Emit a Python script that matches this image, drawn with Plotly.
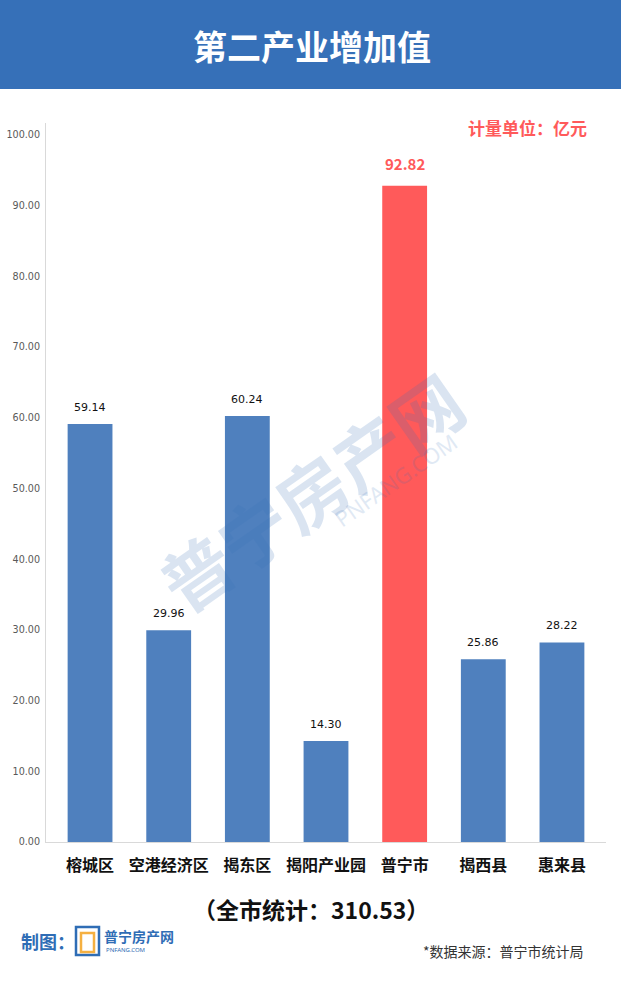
import plotly.graph_objects as go

categories = ["榕城区", "空港经济区", "揭东区", "揭阳产业园", "普宁市", "揭西县", "惠来县"]
values = [59.14, 29.96, 60.24, 14.30, 92.82, 25.86, 28.22]
highlight = "普宁市"
tick_vals = [0, 10, 20, 30, 40, 50, 60, 70, 80, 90, 100]
tick_text = ["%.2f" % v for v in tick_vals]
title_text = "第二产业增加值"
unit_text = "计量单位：亿元"
total_text = "（全市统计：310.53）"
source_text = "*数据来源：普宁市统计局"

BLUE = "#4F80BE"
RED = "#FF5A5A"
colors = [RED if c == highlight else BLUE for c in categories]

fig = go.Figure()
fig.add_trace(go.Bar(
    x=categories, y=values, marker=dict(color=colors, line=dict(width=0)),
    width=0.57, showlegend=False, hoverinfo="skip",
))

for c, v in zip(categories, values):
    if c == highlight:
        fig.add_annotation(x=c, y=v, text="<b>%.2f</b>" % v, showarrow=False,
                           yshift=10, yanchor="bottom", xanchor="center",
                           font=dict(family="Noto Sans CJK SC", size=15, color=RED))
    else:
        fig.add_annotation(x=c, y=v, text="%.2f" % v, showarrow=False,
                           yshift=8, yanchor="bottom", xanchor="center",
                           font=dict(family="DejaVu Sans", size=11, color="#111111"))

fig.update_layout(
    width=621, height=983,
    margin=dict(l=46, r=15, t=123, b=141),
    paper_bgcolor="white", plot_bgcolor="white",
    xaxis=dict(range=[-0.56, 6.56], showgrid=False, showline=True, linecolor="#D9D9D9",
               linewidth=1, ticks="", tickfont=dict(family="Noto Sans CJK SC", size=16, color="#111111"),
               tickvals=categories, ticktext=["<b>%s</b>" % c for c in categories],
               ticklabelstandoff=9, fixedrange=True, automargin=False),
    yaxis=dict(range=[0, 101.7], tickvals=tick_vals, ticktext=tick_text, showgrid=False,
               showline=True, linecolor="#D9D9D9", linewidth=1, ticks="", zeroline=False,
               tickfont=dict(family="DejaVu Sans", size=9.6, color="#595959"), ticklabelstandoff=3,
               fixedrange=True, automargin=False),
    font=dict(family="Noto Sans CJK SC"),
)

plot_h = 983 - 123 - 141
plot_w = 621 - 46 - 15
def py(y):
    return (983 - 141 - y) / plot_h
def px(x):
    return (x - 46) / plot_w

def note(x, y, text, size, color, family="Noto Sans CJK SC", xanchor="center", **kw):
    fig.add_annotation(xref="paper", yref="paper", x=px(x), y=py(y), text=text, showarrow=False,
                       xanchor=xanchor, yanchor="middle",
                       font=dict(family=family, size=size, color=color), **kw)

fig.add_shape(type="rect", xref="paper", yref="paper", x0=px(-2), x1=px(623), y0=py(89), y1=py(-2),
              fillcolor="#3670B8", line=dict(width=0), layer="below")

note(312, 45, "<b>%s</b>" % title_text, 34, "white")
note(589, 128, "<b>%s</b>" % unit_text, 17, RED, xanchor="right")

# watermark
note(310, 490, "<b>普宁房产网</b>", 70, "#3670B8", textangle=-35, opacity=0.18)
note(395, 480, "PNFANG.COM", 22, "#3670B8", family="Noto Sans", textangle=-35, opacity=0.15)

note(311, 909, "<b>%s</b>" % total_text, 23, "#111111")

note(19, 941, "<b>制图：</b>", 18, "#2F6DB5", xanchor="left")
note(102, 936, "<b>普宁房产网</b>", 14, "#2F6DB5", xanchor="left")
note(104, 950, "PNFANG.COM", 6, "#2F6DB5", family="Noto Sans", xanchor="left")
fig.add_shape(type="rect", xref="paper", yref="paper", x0=px(76), x1=px(99), y0=py(955), y1=py(927),
              line=dict(color="#2F6DB5", width=2.5))
fig.add_shape(type="rect", xref="paper", yref="paper", x0=px(81), x1=px(94), y0=py(952), y1=py(933),
              line=dict(color="#F5B041", width=2.5))

note(586, 951, source_text, 14, "#333333", xanchor="right")

fig.write_html("out.html", config={"displayModeBar": False},
               post_script="document.body.style.margin='0';document.body.style.overflow='hidden';")
